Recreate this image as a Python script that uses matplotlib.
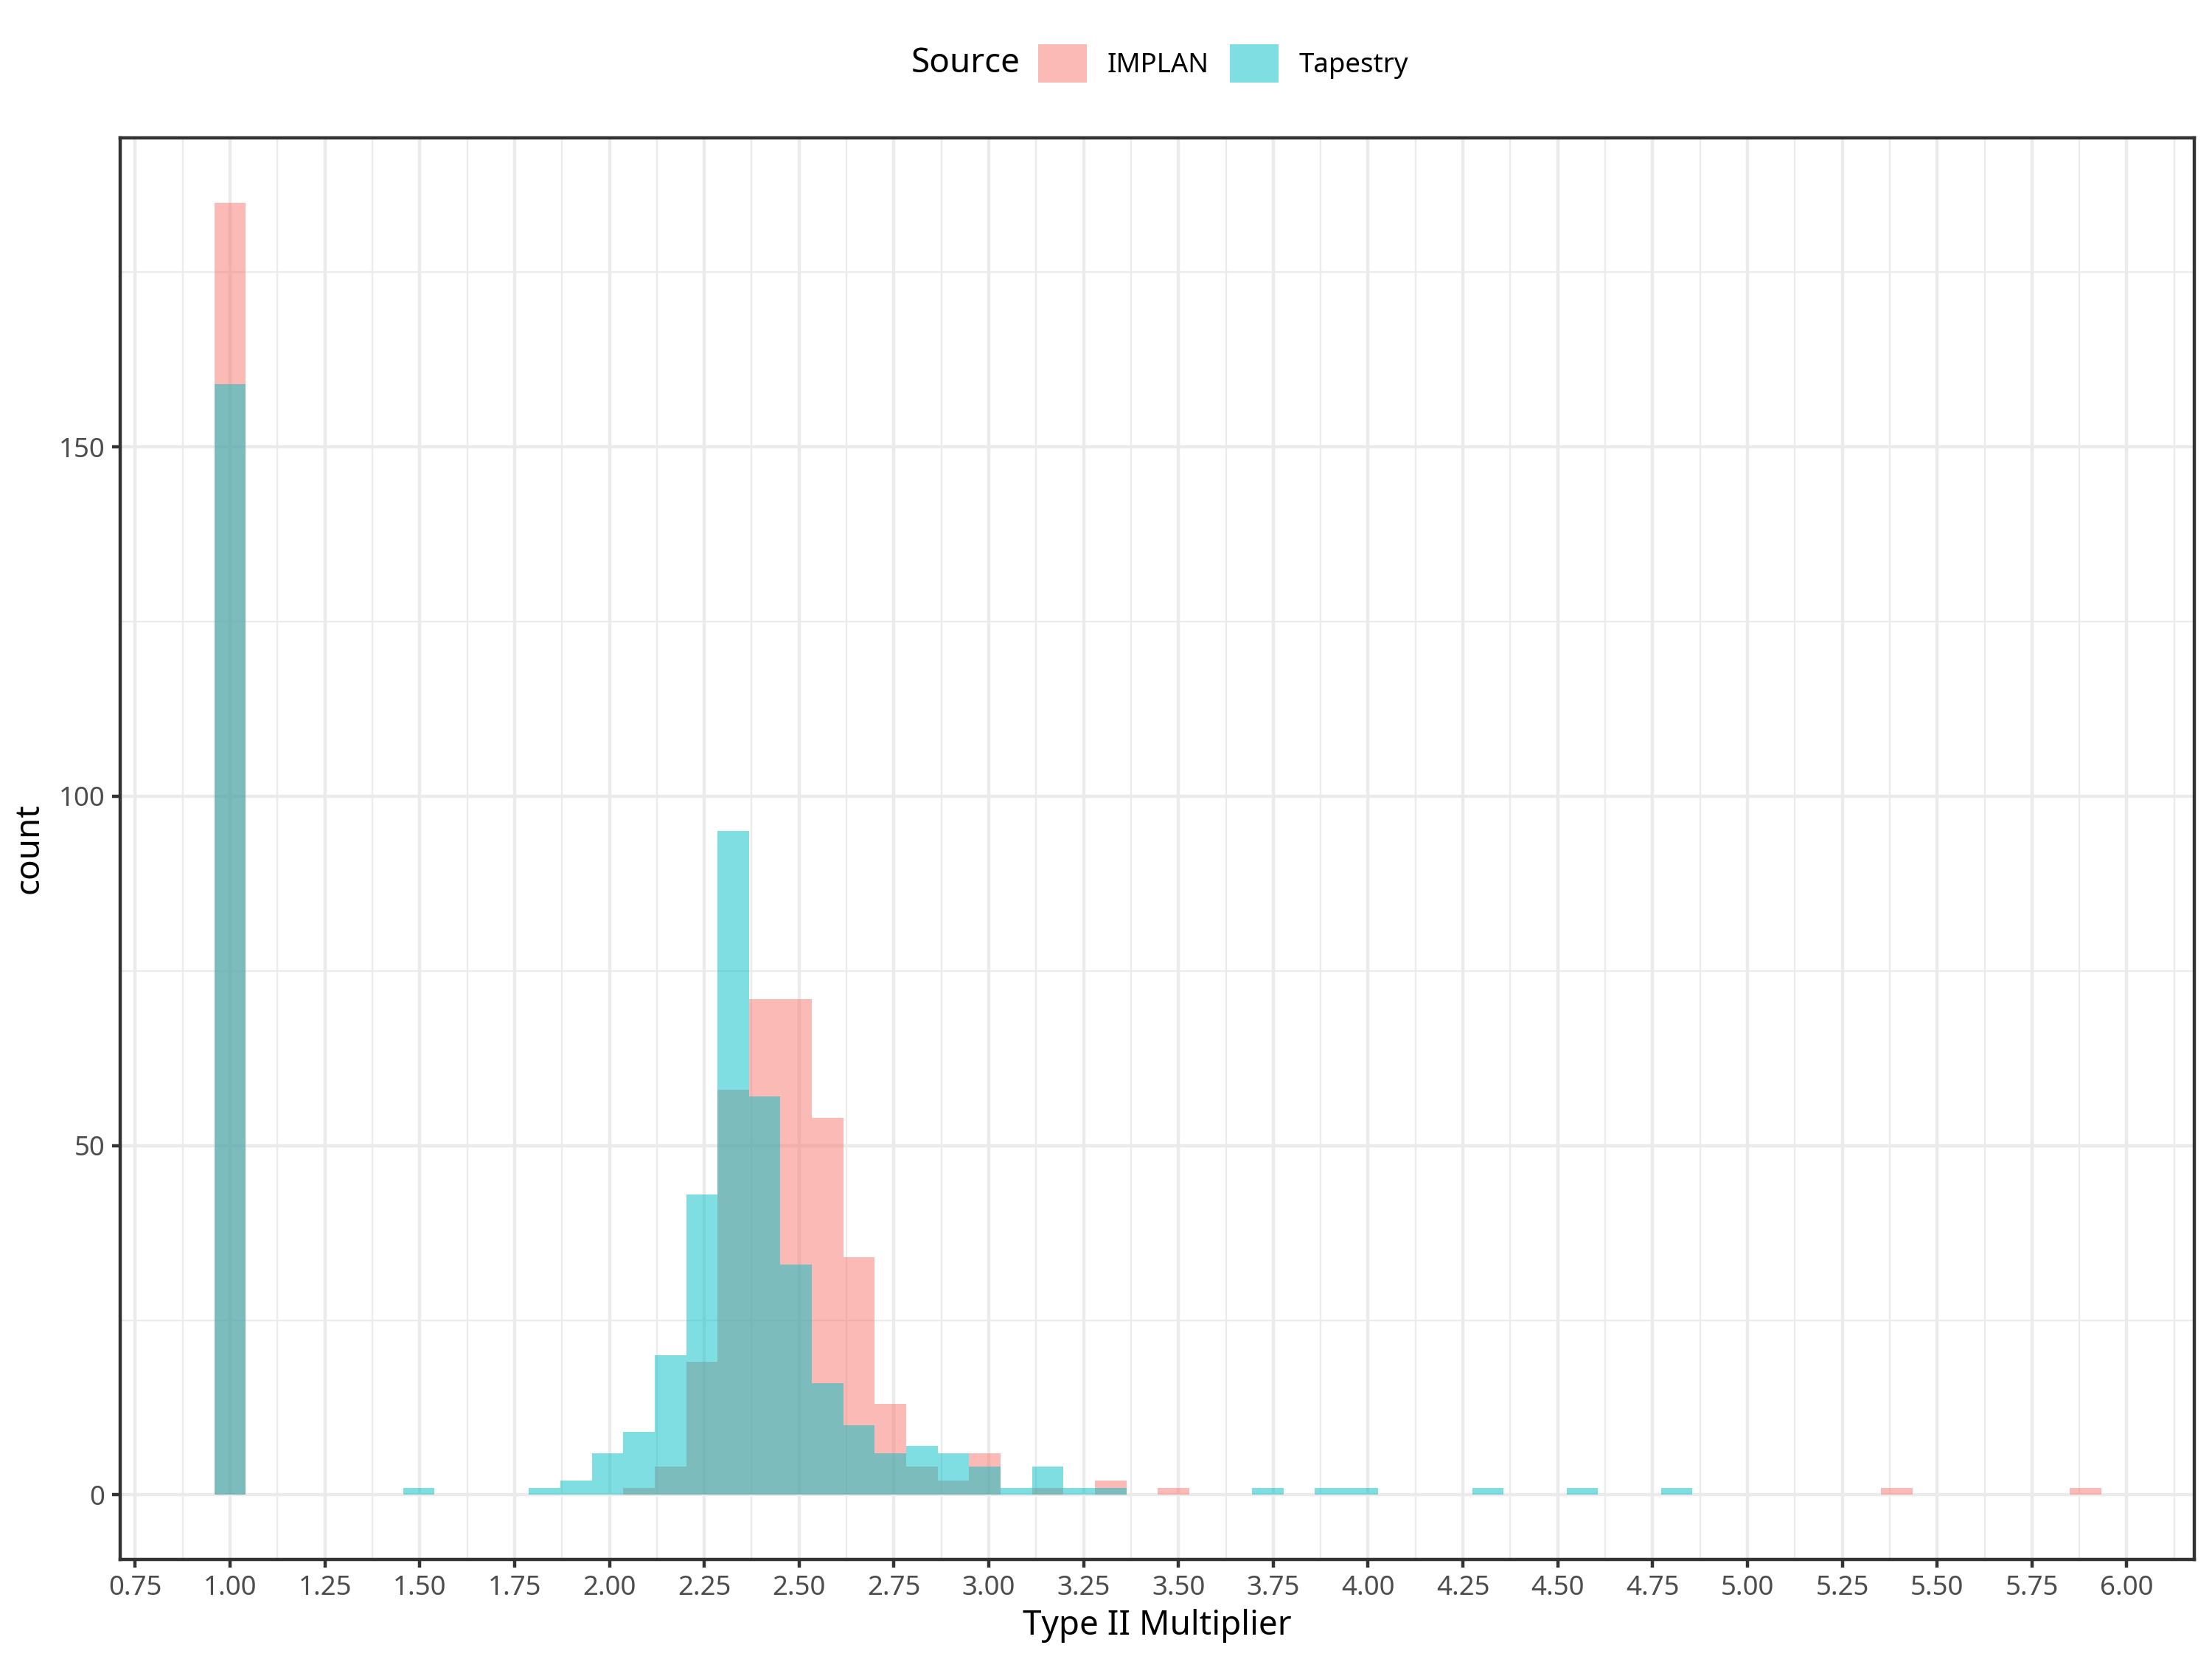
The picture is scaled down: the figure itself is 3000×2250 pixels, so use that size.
"""Histogram of Type II multipliers, IMPLAN vs Tapestry (ggplot theme_bw look)."""
import matplotlib
matplotlib.use("Agg")
import matplotlib.pyplot as plt
from matplotlib.patches import Patch

plt.rcParams["font.family"] = ["Noto Sans", "DejaVu Sans"]

BIN_WIDTH = 0.0829

# bin centres and counts (non-empty bins only)
implan_centers = [1.0000, 2.0777, 2.1606, 2.2435, 2.3264, 2.4093, 2.4922,
                  2.5751, 2.6580, 2.7409, 2.8238, 2.9067, 2.9896, 3.1554,
                  3.3212, 3.4870, 5.3937, 5.8911]
implan_counts = [185, 1, 4, 19, 58, 71, 71, 54, 34, 13, 4, 2, 6, 1, 2, 1, 1, 1]

tapestry_centers = [1.0000, 1.4974, 1.8290, 1.9119, 1.9948, 2.0777, 2.1606,
                    2.2435, 2.3264, 2.4093, 2.4922, 2.5751, 2.6580, 2.7409,
                    2.8238, 2.9067, 2.9896, 3.0725, 3.1554, 3.2383, 3.3212,
                    3.7357, 3.9015, 3.9844, 4.3160, 4.5647, 4.8134]
tapestry_counts = [159, 1, 1, 2, 6, 9, 20, 43, 95, 57, 33, 16, 10, 6, 7, 6, 4,
                   1, 4, 1, 1, 1, 1, 1, 1, 1, 1]

x_major = [0.75, 1.00, 1.25, 1.50, 1.75, 2.00, 2.25, 2.50, 2.75, 3.00, 3.25,
           3.50, 3.75, 4.00, 4.25, 4.50, 4.75, 5.00, 5.25, 5.50, 5.75, 6.00]
x_minor = [0.875, 1.125, 1.375, 1.625, 1.875, 2.125, 2.375, 2.625, 2.875,
           3.125, 3.375, 3.625, 3.875, 4.125, 4.375, 4.625, 4.875, 5.125,
           5.375, 5.625, 5.875, 6.125]
y_major = [0, 50, 100, 150]
y_minor = [25, 75, 125, 175]

PINK = "#F8766D"
CYAN = "#00BFC4"
GRID = "#EBEBEB"
DARK = "#333333"

fig = plt.figure(figsize=(10, 7.5), dpi=300)
ax = fig.add_axes([0.0543, 0.060, 0.9377, 0.8569])

ax.bar(implan_centers, implan_counts, width=BIN_WIDTH, color=PINK, alpha=0.5,
       linewidth=0, zorder=2)
ax.bar(tapestry_centers, tapestry_counts, width=BIN_WIDTH, color=CYAN, alpha=0.5,
       linewidth=0, zorder=3)

ax.set_xlim(0.710, 6.178)
ax.set_ylim(-9.25, 194.25)
ax.set_xticks(x_major)
ax.set_xticklabels([f"{v:.2f}" for v in x_major])
ax.set_xticks(x_minor, minor=True)
ax.set_yticks(y_major)
ax.set_yticks(y_minor, minor=True)

ax.grid(which="major", color=GRID, linewidth=1.07, zorder=0)
ax.grid(which="minor", color=GRID, linewidth=0.53, zorder=0)
ax.set_axisbelow(True)

for s in ax.spines.values():
    s.set_color(DARK)
    s.set_linewidth(1.07)

ax.tick_params(which="major", length=2.75, width=1.07, color=DARK,
               labelsize=8.8, labelcolor="#4D4D4D", pad=2.2)
ax.tick_params(which="minor", length=0)

ax.set_xlabel("Type II Multiplier", fontsize=11, labelpad=2.5)
ax.set_ylabel("count", fontsize=11, labelpad=4)

handles = [Patch(facecolor=PINK, alpha=0.5, linewidth=0),
           Patch(facecolor=CYAN, alpha=0.5, linewidth=0)]
fig.legend(handles, ["IMPLAN", "Tapestry"], loc="center",
           bbox_to_anchor=(0.553, 0.9618), ncol=2, frameon=False,
           fontsize=8.8, handlelength=1.8, handleheight=1.8,
           handletextpad=0.74, columnspacing=0.8, borderpad=0, borderaxespad=0)
fig.text(0.4613, 0.9618, "Source", fontsize=11, ha="right", va="center")

fig.savefig("out.png", dpi=300)
